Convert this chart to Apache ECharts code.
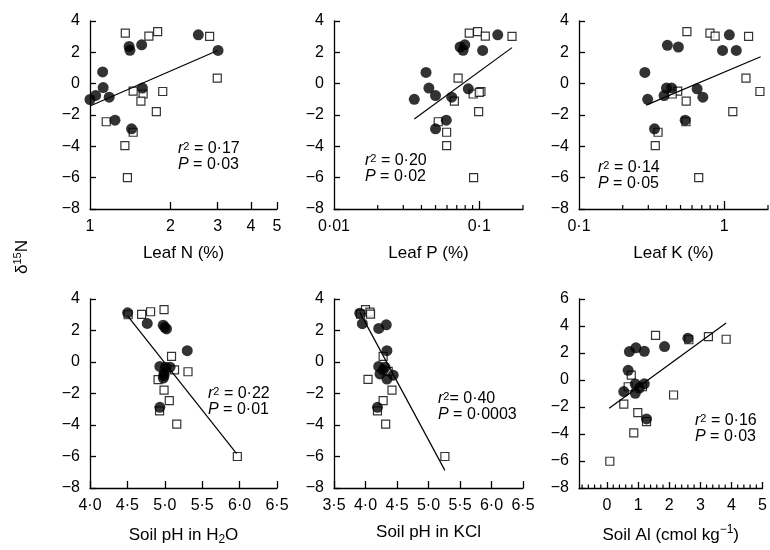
<!DOCTYPE html>
<html><head><meta charset="utf-8">
<script src="https://cdn.jsdelivr.net/npm/echarts@6/dist/echarts.min.js"></script>
<style>html,body{margin:0;padding:0;background:#fff}#c{width:770px;height:550px}</style>
</head><body><div id="c"></div>
<script>
// ---------- DATA (x, δ15N) ----------
const leafNFilled = [[1.0,-1.01],[1.05,-0.75],[1.115,0.75],[1.12,-0.25],[1.18,-0.86],[1.24,-2.33],[1.40,2.38],[1.41,2.13],[1.43,-2.88],[1.56,2.48],[1.57,-0.28],[2.54,3.12],[3.01,2.12]];
const leafNOpen = [[1.355,3.22],[1.66,3.04],[1.79,3.32],[2.80,3.02],[2.99,0.36],[1.45,-0.48],[1.58,-0.66],[1.55,-1.12],[1.87,-0.5],[1.77,-1.78],[1.15,-2.43],[1.45,-3.1],[1.35,-3.95],[1.38,-6.0]];
const leafNFit = [[1,-1.43],[3,2.12]];

const leafPFilled = [[0.0357,-1.0],[0.043,0.72],[0.045,-0.28],[0.050,-0.76],[0.050,-2.88],[0.0593,-2.33],[0.0646,-0.86],[0.0738,2.34],[0.0774,2.13],[0.0795,2.48],[0.084,-0.33],[0.1055,2.12],[0.134,3.12]];
const leafPOpen = [[0.0853,3.22],[0.0973,3.32],[0.110,3.04],[0.168,3.02],[0.0715,0.36],[0.0908,-0.66],[0.1027,-0.5],[0.1,-0.55],[0.0674,-1.12],[0.099,-1.78],[0.0522,-2.43],[0.0596,-3.1],[0.0596,-3.95],[0.0914,-6.0]];
const leafPFit = [[0.0357,-2.25],[0.168,2.3]];

const leafKFilled = [[0.284,0.72],[0.297,-1.0],[0.331,-2.88],[0.385,-0.76],[0.40,-0.28],[0.434,-0.28],[0.406,2.45],[0.483,2.34],[0.538,-2.33],[0.650,-0.33],[0.712,-0.86],[0.973,2.12],[1.084,3.12],[1.21,2.12]];
const leafKOpen = [[0.553,3.32],[0.797,3.22],[0.865,3.04],[1.47,3.02],[1.41,0.36],[1.76,-0.5],[0.478,-0.48],[0.438,-0.66],[0.547,-1.12],[1.145,-1.78],[0.545,-2.43],[0.35,-3.1],[0.335,-3.95],[0.667,-6.0]];
const leafKFit = [[0.29,-1.37],[1.78,1.72]];

const phH2OFilled = [[4.503,3.12],[4.765,2.45],[4.979,2.34],[5.0,2.2],[5.023,2.1],[5.30,0.72],[4.934,-0.28],[5.01,-0.33],[5.07,-0.33],[4.99,-0.72],[4.98,-1.02],[4.99,-0.86],[4.934,-2.88]];
const phH2OOpen = [[4.51,3.0],[4.69,3.02],[4.81,3.19],[4.99,3.32],[5.09,0.36],[5.13,-0.5],[5.31,-0.62],[4.91,-1.12],[4.99,-1.78],[5.06,-2.45],[4.93,-3.1],[5.16,-3.94],[5.97,-6.0]];
const phH2OFit = [[4.5,2.95],[5.96,-5.81]];

const phKClFilled = [[3.909,3.1],[3.95,2.43],[4.21,2.13],[4.33,2.36],[4.34,0.72],[4.21,-0.28],[4.31,-0.33],[4.23,-0.76],[4.34,-1.08],[4.44,-0.84],[4.28,-0.5],[4.19,-2.88]];
const phKClOpen = [[4.0,3.32],[4.07,3.17],[4.08,3.04],[3.92,3.04],[4.28,0.36],[4.04,-1.1],[4.42,-1.78],[4.28,-2.45],[4.19,-3.1],[4.32,-3.94],[5.26,-6.0],[4.36,-0.6]];
const phKClFit = [[3.91,3.15],[5.26,-6.88]];

const soilAlFilled = [[0.72,2.11],[0.93,2.38],[1.20,2.13],[1.85,2.48],[2.60,3.10],[0.68,0.72],[0.54,-0.86],[0.91,-0.29],[0.91,-0.99],[1.2,-0.28],[1.27,-2.88],[1.04,-0.6]];
const soilAlOpen = [[1.56,3.3],[2.63,2.98],[3.26,3.22],[3.83,3.02],[0.78,0.36],[0.68,-0.5],[2.14,-1.11],[0.54,-1.78],[0.99,-2.42],[1.27,-3.09],[0.86,-3.92],[0.09,-6.02],[1.14,-0.5]];
const soilAlFit = [[0.07,-2.1],[3.83,4.22]];

// ---------- TICKS / LABELS ----------
const leafNLabels = [1,2,3,4,5];
const leafNTicks = [2,3,4,5];
const leafPLabels = [0.01,0.1];
const leafPMajor = [0.1];
const leafPMinor = [0.02,0.03,0.04,0.05,0.06,0.07,0.08,0.09,0.2];
const leafKLabels = [0.1,1];
const leafKMajor = [1];
const leafKMinor = [0.2,0.3,0.4,0.5,0.6,0.7,0.8,0.9,2];
const soilAlLabels = [0,1,2,3,4,5];
const soilAlMinor = [-0.8,-0.6,-0.4,-0.2,0.2,0.4,0.6,0.8,1.2,1.4,1.6,1.8,2.2,2.4,2.6,2.8,3.2,3.4,3.6,3.8,4.2,4.4,4.6,4.8];

const xNames = ['Leaf N (%)','Leaf P (%)','Leaf K (%)','Soil pH in H{sub|2}O','Soil pH in KCl','Soil Al (cmol kg{sup|\u22121})'];
const stats = [['0\u00b717','0\u00b703',' '],['0\u00b720','0\u00b702',' '],['0\u00b714','0\u00b705',' '],['0\u00b722','0\u00b701',' '],['0\u00b740','0\u00b70003',''],['0\u00b716','0\u00b703',' ']];

// ---------- STYLE / LAYOUT ----------
const FONT = '"Liberation Sans", Arial, Helvetica, sans-serif';
const BLACK = '#000';
const grids = [
  {left:90, top:21, width:187, height:188},
  {left:334, top:21, width:189, height:188},
  {left:579, top:21, width:189, height:188},
  {left:90, top:299, width:187, height:189},
  {left:334, top:299, width:189, height:189},
  {left:579, top:299, width:188, height:189}
];
const statPos = [[178,141],[365,153],[598,160],[208,386],[438,391],[695,413]];

const dotFmt = v => String(v).replace('.', '\u00b7').replace('-', '\u2212');
const fix1 = v => v.toFixed(1).replace('.', '\u00b7');

function xMain(i, extra) {
  return Object.assign({
    gridIndex: i, position: 'bottom', offset: 0,
    name: xNames[i], nameLocation: 'middle', nameGap: 36,
    nameTextStyle: {fontSize: 17, color: BLACK, fontFamily: FONT,
      rich: {sub: {fontSize: 12, fontFamily: FONT, color: BLACK, verticalAlign: 'bottom', lineHeight: 22},
             sup: {fontSize: 12, fontFamily: FONT, color: BLACK, verticalAlign: 'top', lineHeight: 22}}},
    axisLine: {show: true, onZero: false, lineStyle: {color: BLACK, width: 1.3}},
    splitLine: {show: false},
    silent: true
  }, extra);
}
function tickStyle(len, vals) {
  const t = {show: true, inside: true, length: len, lineStyle: {color: BLACK, width: 1.3}};
  if (vals) t.customValues = vals;
  return t;
}
function labelStyle(fmt, vals) {
  const l = {show: true, color: BLACK, fontSize: 16, fontFamily: FONT, margin: 10, formatter: fmt};
  if (vals) l.customValues = vals;
  return l;
}

const xAxes = [
  xMain(0, {type: 'log', logBase: 10, min: 1, max: 5, axisTick: tickStyle(7, leafNTicks), axisLabel: labelStyle(dotFmt, leafNLabels)}),
  xMain(1, {type: 'log', logBase: 10, min: 0.01, max: 0.2, axisTick: tickStyle(8, leafPMajor), axisLabel: labelStyle(dotFmt, leafPLabels)}),
  xMain(2, {type: 'log', logBase: 10, min: 0.1, max: 2, axisTick: tickStyle(8, leafKMajor), axisLabel: labelStyle(dotFmt, leafKLabels)}),
  xMain(3, {type: 'value', min: 4, max: 6.5, interval: 0.5, axisTick: tickStyle(7), axisLabel: labelStyle(fix1)}),
  xMain(4, {type: 'value', min: 3.5, max: 6.5, interval: 0.5, axisTick: tickStyle(7), axisLabel: labelStyle(fix1)}),
  xMain(5, {type: 'value', min: -0.9, max: 5, axisTick: tickStyle(6, soilAlLabels), axisLabel: labelStyle(dotFmt, soilAlLabels)})
];

const yMins = [-8, -8, -8, -8, -8, -8];
const yMaxs = [4, 4, 4, 4, 4, 6];
const yAxes = grids.map((g, i) => ({
  gridIndex: i, type: 'value', min: yMins[i], max: yMaxs[i], interval: 2,
  axisLine: {show: true, onZero: false, lineStyle: {color: BLACK, width: 1.3}},
  axisTick: tickStyle(6),
  axisLabel: {color: BLACK, fontSize: 16, fontFamily: FONT, margin: 10, formatter: dotFmt},
  splitLine: {show: false}, silent: true
}));

const panelData = [
  [leafNOpen, leafNFilled, leafNFit],
  [leafPOpen, leafPFilled, leafPFit],
  [leafKOpen, leafKFilled, leafKFit],
  [phH2OOpen, phH2OFilled, phH2OFit],
  [phKClOpen, phKClFilled, phKClFit],
  [soilAlOpen, soilAlFilled, soilAlFit]
];

const series = [];
panelData.forEach((p, i) => {
  series.push({type: 'scatter', xAxisIndex: i, yAxisIndex: i, data: p[0], symbol: 'rect', symbolSize: 8, z: 3,
    itemStyle: {color: '#fff', borderColor: BLACK, borderWidth: 1.2}, silent: true});
  series.push({type: 'scatter', xAxisIndex: i, yAxisIndex: i, data: p[1], symbol: 'circle', symbolSize: 11, z: 4,
    itemStyle: {color: BLACK}, silent: true});
  series.push({type: 'line', xAxisIndex: i, yAxisIndex: i, data: p[2], showSymbol: false, symbol: 'none', z: 5,
    lineStyle: {color: BLACK, width: 1.2}, silent: true});
});

// minor ticks on the bottom axis, placed through the axis scale
function minorTicks(i, vals, len) {
  return {
    type: 'custom', xAxisIndex: i, yAxisIndex: i, silent: true, z: 6, clip: false,
    data: vals.map(v => [v, yMins[i]]),
    renderItem: (params, api) => {
      const p = api.coord([api.value(0), api.value(1)]);
      return {type: 'line', shape: {x1: p[0], y1: p[1], x2: p[0], y2: p[1] - len},
              style: {stroke: BLACK, lineWidth: 1.2}};
    }
  };
}
series.push(minorTicks(1, leafPMinor, 4));
series.push(minorTicks(2, leafKMinor, 4));
series.push(minorTicks(5, soilAlMinor, 3.5));

const graphics = stats.map((s, i) => ({
  type: 'text', left: statPos[i][0], top: statPos[i][1], silent: true,
  style: {
    text: '{i|r}{s|2}' + s[2] + '= ' + s[0] + '\n{i|P} = ' + s[1],
    font: '16px ' + FONT, fill: BLACK, lineHeight: 16,
    rich: {i: {fontStyle: 'italic', fontSize: 16, fontFamily: FONT, lineHeight: 16},
           s: {fontSize: 11, fontFamily: FONT, verticalAlign: 'top', lineHeight: 16}}
  }
}));
graphics.push({
  type: 'text', x: 22, y: 257, rotation: Math.PI / 2, silent: true,
  style: {
    text: '{d|\u03b4}{s|15}{d|N}', fill: BLACK, align: 'center', verticalAlign: 'middle',
    rich: {d: {fontSize: 17, fontFamily: FONT, lineHeight: 20},
           s: {fontSize: 11, fontFamily: FONT, verticalAlign: 'top', lineHeight: 20}}
  }
});

const chart = echarts.init(document.getElementById('c'), null, {renderer: 'canvas'});
chart.setOption({
  animation: false,
  backgroundColor: '#fff',
  grid: grids.map(g => Object.assign({containLabel: false}, g)),
  xAxis: xAxes,
  yAxis: yAxes,
  series: series,
  graphic: graphics
});
</script></body></html>
